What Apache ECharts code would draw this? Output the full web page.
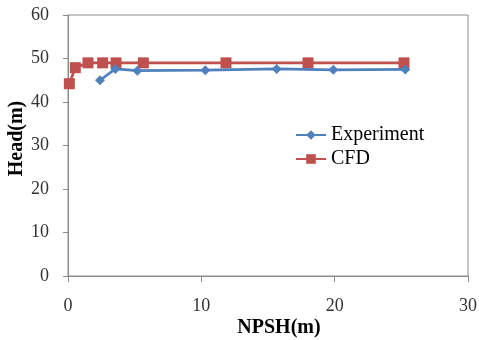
<!DOCTYPE html>
<html><head><meta charset="utf-8">
<script src="https://cdn.jsdelivr.net/npm/echarts@6/dist/echarts.min.js"></script>
<style>html,body{margin:0;padding:0;background:#fff}#c{width:479px;height:340px}</style>
</head><body><div id="c"></div>
<script>
const expX = [2.4, 3.55, 5.2, 10.3, 15.65, 19.9, 25.3];
const expY = [45.0, 47.6, 47.2, 47.3, 47.6, 47.4, 47.5];
const cfdX = [0.1, 0.55, 1.5, 2.6, 3.6, 5.65, 11.85, 18.0, 25.2];
const cfdY = [44.2, 47.9, 49.0, 49.0, 49.0, 49.0, 49.0, 49.0, 49.0];
const xTicks = [0, 10, 20, 30];
const yTicks = [0, 10, 20, 30, 40, 50, 60];

const font = 'Liberation Serif';
const chart = echarts.init(document.getElementById('c'), null, {renderer: 'canvas'});
chart.setOption({
  animation: false,
  backgroundColor: '#fff',
  grid: {left: 68, right: 11, top: 15, bottom: 64, show: true, borderColor: '#8c8c8c', borderWidth: 1,
         containLabel: false, outerBoundsMode: 'none'},
  legend: {
    orient: 'vertical', left: 290, top: 120, itemGap: 4, itemWidth: 30, itemHeight: 12,
    textStyle: {fontFamily: font, fontSize: 20, color: '#000'},
    data: ['Experiment', 'CFD']
  },
  xAxis: {
    type: 'value', min: 0, max: 30, interval: 10,
    name: 'NPSH(m)', nameLocation: 'middle', nameGap: 42, nameMoveOverlap: false,
    nameTextStyle: {fontFamily: font, fontSize: 20, fontWeight: 'bold', color: '#000', padding: [0, 0, 0, 22]},
    axisLine: {show: true, lineStyle: {color: '#8c8c8c'}},
    axisTick: {show: true, length: 6, lineStyle: {color: '#8c8c8c'}},
    axisLabel: {fontFamily: font, fontSize: 18, color: '#333', margin: 21, formatter: v => xTicks.includes(v) ? String(v) : ''},
    splitLine: {show: false}
  },
  yAxis: {
    type: 'value', min: 0, max: 60, interval: 10,
    name: 'Head(m)', nameLocation: 'middle', nameGap: 41, nameMoveOverlap: false,
    nameTextStyle: {fontFamily: font, fontSize: 20, fontWeight: 'bold', color: '#000', padding: [0, 0, 0, 14]},
    axisLine: {show: true, lineStyle: {color: '#8c8c8c'}},
    axisTick: {show: true, inside: false, length: 5, lineStyle: {color: '#8c8c8c'}},
    axisLabel: {fontFamily: font, fontSize: 18, color: '#333', margin: 19, formatter: v => yTicks.includes(v) ? String(v) : ''},
    splitLine: {show: false}
  },
  series: [
    {
      name: 'Experiment', type: 'line', data: expX.map((x, i) => [x, expY[i]]),
      symbol: 'diamond', symbolSize: 10, showSymbol: true,
      lineStyle: {color: '#4F81BD', width: 2.75}, itemStyle: {color: '#4F81BD'}, z: 3
    },
    {
      name: 'CFD', type: 'line', data: cfdX.map((x, i) => [x, cfdY[i]]),
      symbol: 'rect', symbolSize: 11, showSymbol: true,
      lineStyle: {color: '#C0504D', width: 2.75}, itemStyle: {color: '#C0504D'}, z: 2
    }
  ]
});
</script></body></html>
